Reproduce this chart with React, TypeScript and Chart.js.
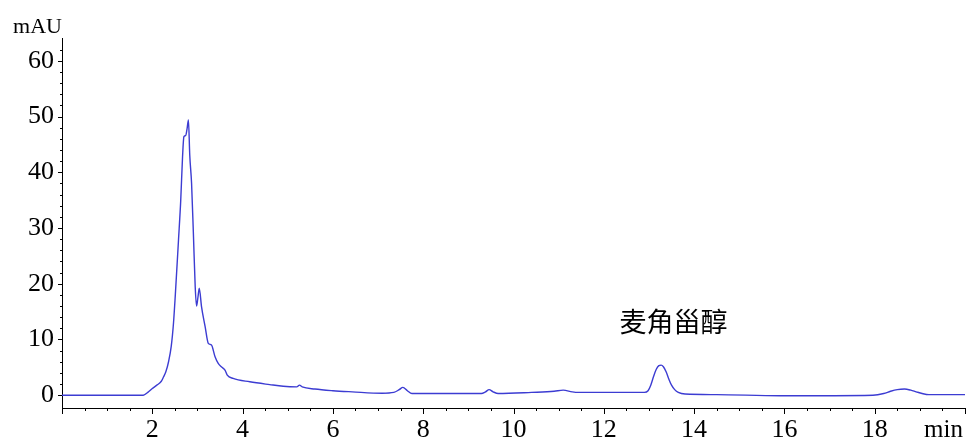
import React, { useEffect, useRef } from 'react';
import { Chart, registerables } from 'chart.js';

Chart.register(...registerables);

// Retention time (min)
const timeMin = [
  0, 0.5, 1.0, 1.5, 1.8, 1.9, 2.0, 2.1, 2.2, 2.25, 2.3, 2.36, 2.42, 2.47, 2.51, 2.58, 2.63, 2.67, 2.70, 2.74, 2.77,
  2.80, 2.83, 2.87, 2.91, 2.95, 2.98, 3.01, 3.04, 3.09, 3.17, 3.24, 3.31, 3.39, 3.46, 3.53, 3.61, 3.66, 3.79,
  4.16, 4.6, 4.9, 5.2, 5.26, 5.32, 5.6, 6.0, 6.43, 7.09, 7.35, 7.47, 7.55, 7.65, 7.75, 8.5, 9.29, 9.38, 9.46,
  9.55, 9.66, 10.4, 10.9, 11.1, 11.3, 11.43, 12.0, 12.9, 12.98, 13.04, 13.1, 13.16, 13.22, 13.27, 13.32, 13.38,
  13.44, 13.5, 13.57, 13.65, 13.8, 14.5, 15.9, 17.96, 18.2, 18.35, 18.5, 18.66, 18.8, 18.92, 19.05, 19.2, 20,
];

// Detector signal (mAU)
const signalMAU = [
  0, 0, 0, 0, 0, 0.5, 1.2, 1.8, 2.5, 3.3, 4.2, 6, 8.8, 13, 18, 27.8, 35, 42.8, 46.4, 46.6, 47.8,
  49.4, 43, 38, 29, 19.5, 16, 17.5, 19.2, 15.9, 12.3, 9.3, 9, 6.9, 5.7, 5.1, 4.5, 3.6, 3.0,
  2.4, 1.9, 1.6, 1.5, 1.8, 1.5, 1.1, 0.8, 0.6, 0.35, 0.5, 1.0, 1.4, 0.8, 0.3, 0.3, 0.3, 0.6, 1.0,
  0.6, 0.3, 0.5, 0.7, 0.9, 0.6, 0.5, 0.5, 0.5, 0.8, 1.8, 3.3, 4.6, 5.3, 5.4, 5.1, 4.2,
  2.9, 1.8, 1.0, 0.5, 0.2, 0.1, -0.1, 0, 0.3, 0.7, 1.0, 1.1, 0.9, 0.6, 0.3, 0.1, 0.1,
];

const xMajorLabels = [2, 4, 6, 8, 10, 12, 14, 16, 18];
const yMajorLabels = [0, 10, 20, 30, 40, 50, 60];
const yAxisUnit = 'mAU';
const xAxisUnit = 'min';
const peakLabel = '麦角甾醇';
const peakLabelAt = [12.35, 13.1];

const serif = '"Liberation Serif", "Times New Roman", serif';

const isMult = (v: number, s: number) => Math.abs(v / s - Math.round(v / s)) < 1e-6;

const decorPlugin = {
  id: 'decor',
  afterDraw(chart: any) {
    const { ctx, chartArea, scales } = chart;
    const x = scales.x;
    const y = scales.y;
    ctx.save();
    ctx.strokeStyle = '#000';
    ctx.lineWidth = 1;
    x.ticks.forEach((t: any) => {
      const px = Math.round(x.getPixelForValue(t.value)) + 0.5;
      const len = isMult(t.value, 2) ? 6 : 3;
      ctx.beginPath();
      ctx.moveTo(px, chartArea.bottom);
      ctx.lineTo(px, chartArea.bottom + len);
      ctx.stroke();
    });
    y.ticks.forEach((t: any) => {
      const py = Math.round(y.getPixelForValue(t.value)) + 0.5;
      const len = isMult(t.value, 10) ? 4 : 2;
      ctx.beginPath();
      ctx.moveTo(chartArea.left, py);
      ctx.lineTo(chartArea.left - len, py);
      ctx.stroke();
    });
    ctx.fillStyle = '#000';
    ctx.font = `22px ${serif}`;
    ctx.textBaseline = 'alphabetic';
    ctx.textAlign = 'right';
    ctx.fillText(yAxisUnit, chartArea.left, 33);
    ctx.font = `25px ${serif}`;
    ctx.fillText(xAxisUnit, chart.width - 5, 437);
    ctx.font = `27px "Noto Sans CJK SC", "Noto Sans", sans-serif`;
    ctx.textAlign = 'left';
    ctx.textBaseline = 'middle';
    ctx.fillText(peakLabel, x.getPixelForValue(peakLabelAt[0]), y.getPixelForValue(peakLabelAt[1]));
    ctx.restore();
  },
};

export default function App() {
  const ref = useRef<HTMLCanvasElement | null>(null);
  useEffect(() => {
    document.body.style.margin = '0';
    if (!ref.current) return;
    const chart = new Chart(ref.current, {
      type: 'line',
      data: {
        datasets: [
          {
            data: timeMin.map((t, i) => ({ x: t, y: signalMAU[i] })),
            borderColor: '#3c3cd2',
            borderWidth: 1.4,
            pointRadius: 0,
            cubicInterpolationMode: 'monotone',
            fill: false,
          },
        ],
      },
      options: {
        animation: false,
        responsive: false,
        devicePixelRatio: 1,
        layout: { padding: { top: 38, left: 0, right: 0, bottom: 0 } },
        plugins: { legend: { display: false }, tooltip: { enabled: false } },
        scales: {
          x: {
            type: 'linear',
            min: 0,
            max: 20,
            afterFit: (s: any) => { s.height = 36; },
            afterBuildTicks: (s: any) => { s.ticks = s.ticks.filter((t: any) => isMult(t.value, 0.5)); },
            grid: { display: true, drawOnChartArea: false, drawTicks: true, tickLength: 4, tickColor: 'rgba(0,0,0,0)' },
            border: { display: true, color: '#000', width: 1 },
            ticks: {
              stepSize: 0.5,
              autoSkip: false,
              maxRotation: 0,
              padding: 3,
              color: '#000',
              font: { family: serif, size: 26 },
              callback: (v: any) => (xMajorLabels.some((m) => Math.abs(m - v) < 1e-6) ? String(v) : ''),
            },
          },
          y: {
            type: 'linear',
            min: -2.3,
            max: 64.1,
            afterFit: (s: any) => { s.width = 62; },
            afterBuildTicks: (s: any) => { s.ticks = s.ticks.filter((t: any) => isMult(t.value, 2)); },
            grid: { display: true, drawOnChartArea: false, drawTicks: true, tickLength: 4, tickColor: 'rgba(0,0,0,0)' },
            border: { display: true, color: '#000', width: 1 },
            ticks: {
              stepSize: 2,
              autoSkip: false,
              padding: 4,
              color: '#000',
              font: { family: serif, size: 26 },
              callback: (v: any) => (yMajorLabels.some((m) => Math.abs(m - v) < 1e-6) ? String(v) : ''),
            },
          },
        },
      },
      plugins: [decorPlugin],
    } as any);
    return () => chart.destroy();
  }, []);
  return (
    <div style={{ width: 968, height: 444, background: '#fff' }}>
      <canvas ref={ref} width={968} height={444} />
    </div>
  );
}
